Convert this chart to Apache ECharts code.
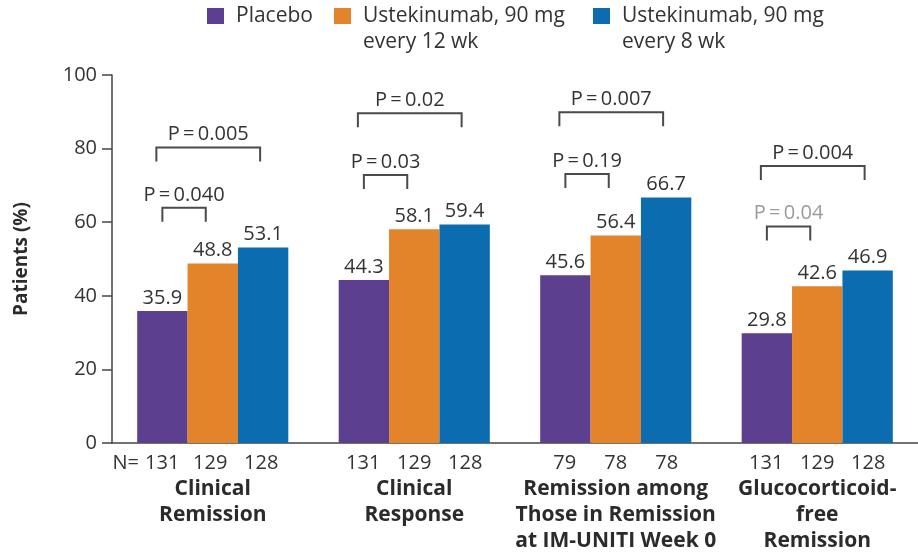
<!DOCTYPE html>
<html>
<head>
<meta charset="utf-8">
<script src="https://cdn.jsdelivr.net/npm/echarts@6/dist/echarts.min.js"></script>
<style>
  html, body { margin: 0; padding: 0; background: #ffffff; }
  #chart { width: 918px; height: 554px; }
</style>
</head>
<body>
<div id="chart"></div>
<script>
// Outcome categories (x axis)
const categories = [
  'Clinical\nRemission',
  'Clinical\nResponse',
  'Remission among\nThose in Remission\nat IM-UNITI Week 0',
  'Glucocorticoid-\nfree\nRemission'
];

// Treatment groups
const seriesNames = ['Placebo', 'Ustekinumab, 90 mg\nevery 12 wk', 'Ustekinumab, 90 mg\nevery 8 wk'];

// Percentage of patients per group
const placebo = [35.9, 44.3, 45.6, 29.8];
const ust12wk = [48.8, 58.1, 56.4, 42.6];
const ust8wk  = [53.1, 59.4, 66.7, 46.9];

// Number of patients per group
const nPlacebo = [131, 131, 79, 131];
const nUst12wk = [129, 129, 78, 129];
const nUst8wk  = [128, 128, 78, 128];

// P values: placebo vs every 12 wk (short bracket) and placebo vs every 8 wk (long bracket)
const pShortText  = ['P=0.040', 'P=0.03', 'P=0.19', 'P=0.04'];
const pShortLevel = [63.9, 72.8, 73.1, 58.8];
const pShortMuted = [false, false, false, true];
const pLongText   = ['P=0.005', 'P=0.02', 'P=0.007', 'P=0.004'];
const pLongLevel  = [80.3, 89.6, 89.9, 75.3];

// Y axis ticks
const yMin = 0, yMax = 100, yStep = 20;

const colors = ['#5d3f8f', '#e3832a', '#0b6db0'];
const FONT = '"Open Sans", "Noto Sans", sans-serif';
const TEXT = '#333333';
const AXIS = '#444444';

// Bracket records built from the P-value arrays: [category, level, kind]
const brackets = [];
const bracketLabels = [];
const bracketMuted = [];
categories.forEach((c, i) => {
  brackets.push([i, pShortLevel[i], 0]);
  bracketLabels.push(pShortText[i]);
  bracketMuted.push(pShortMuted[i]);
  brackets.push([i, pLongLevel[i], 1]);
  bracketLabels.push(pLongText[i]);
  bracketMuted.push(false);
});

function renderBracket(params, api) {
  const cat = api.value(0);
  const level = api.value(1);
  const kind = api.value(2);
  const pt = api.coord([cat, level]);
  const cx = pt[0], y = pt[1];
  const bw = api.size([1, 0])[0] * 0.25;
  let x1, x2;
  if (kind === 0) { x1 = cx - bw; x2 = cx - 7; }
  else { x1 = cx - bw - 6; x2 = cx + bw - 3; }
  const leg = 14;
  // thin spaces around the equals sign
  const text = bracketLabels[params.dataIndex].replace('=', '\u2009=\u2009');
  return {
    type: 'group',
    children: [
      {
        type: 'polyline',
        shape: { points: [[x1, y + leg], [x1, y], [x2, y], [x2, y + leg]] },
        style: { stroke: '#4a4a4a', lineWidth: 2, fill: null }
      },
      {
        type: 'text',
        x: (x1 + x2) / 2,
        y: y - 13,
        style: {
          text: text,
          align: 'center',
          verticalAlign: 'middle',
          fontSize: 20,
          fontFamily: FONT,
          fill: bracketMuted[params.dataIndex] ? '#9b9b9b' : TEXT
        }
      }
    ]
  };
}

function xLabel(value, index) {
  let nLine;
  if (index === 0) {
    nLine = `{pre|N=}{n1|${nPlacebo[index]}}{n|${nUst12wk[index]}}{n|${nUst8wk[index]}}{post| }`;
  } else {
    nLine = `{n|${nPlacebo[index]}}{n|${nUst12wk[index]}}{n|${nUst8wk[index]}}`;
  }
  const nameLines = value.split('\n').map(s => `{c|${s}}`).join('\n');
  return nLine + '\n' + nameLines;
}

const numStyle = { fontSize: 20, fontFamily: FONT, color: TEXT, lineHeight: 26, align: 'center' };

const labelStyle = {
  show: true,
  position: 'top',
  distance: 3,
  fontSize: 20,
  fontFamily: FONT,
  color: TEXT
};

// Legend swatch sits at the top of a two-line-tall item so it lines up with the first text line
const legendIcon = 'path://M0,0H17V16H0Z M0,41.9H0.1V42H0Z';

const chart = echarts.init(document.getElementById('chart'), null, { renderer: 'canvas' });
chart.setOption({
  animation: false,
  backgroundColor: '#ffffff',
  color: colors,
  textStyle: { fontFamily: FONT },
  legend: {
    left: 207,
    top: 3,
    padding: 0,
    itemWidth: 17,
    itemHeight: 42,
    itemGap: 21,
    icon: legendIcon,
    formatter: name => (name.indexOf('\n') < 0 ? name + '\n ' : name),
    textStyle: { fontSize: 21, fontFamily: FONT, color: TEXT, lineHeight: 26, padding: [0, 0, 0, 7] },
    data: [
      { name: seriesNames[0], textStyle: { width: 77 } },
      { name: seriesNames[1], textStyle: { width: 209 } },
      { name: seriesNames[2], textStyle: { width: 209 } }
    ]
  },
  grid: { left: 112, top: 75, width: 815, height: 368, containLabel: false },
  xAxis: {
    type: 'category',
    data: categories,
    axisTick: { show: false },
    axisLine: { lineStyle: { color: AXIS, width: 1.5 } },
    axisLabel: {
      interval: 0,
      margin: 7,
      formatter: xLabel,
      rich: {
        n: Object.assign({ width: 51 }, numStyle),
        n1: Object.assign({ width: 45 }, numStyle),
        pre: Object.assign({ width: 28 }, numStyle),
        post: Object.assign({ width: 27 }, numStyle),
        c: { fontSize: 21, fontWeight: 'bold', fontFamily: FONT, color: '#2b2b2b', lineHeight: 26, align: 'center' }
      }
    }
  },
  yAxis: {
    type: 'value',
    min: yMin,
    max: yMax,
    interval: yStep,
    name: 'Patients (%)',
    nameLocation: 'middle',
    nameGap: 81,
    nameTextStyle: { fontSize: 19, fontWeight: 'bold', fontFamily: FONT, color: '#2b2b2b' },
    splitLine: { show: false },
    axisLine: { show: true, lineStyle: { color: AXIS, width: 1.5 } },
    axisTick: { show: true, length: 10, lineStyle: { color: AXIS, width: 1.5 } },
    axisLabel: { margin: 15, fontSize: 20, fontFamily: FONT, color: TEXT }
  },
  series: [
    { name: seriesNames[0], type: 'bar', data: placebo, barWidth: '25%', barGap: '0%', label: labelStyle },
    { name: seriesNames[1], type: 'bar', data: ust12wk, barWidth: '25%', barGap: '0%', label: labelStyle },
    { name: seriesNames[2], type: 'bar', data: ust8wk, barWidth: '25%', barGap: '0%', label: labelStyle },
    {
      name: 'P values',
      type: 'custom',
      renderItem: renderBracket,
      data: brackets,
      encode: { x: 0, y: 1 },
      clip: false,
      z: 5,
      silent: true
    }
  ]
});
</script>
</body>
</html>
